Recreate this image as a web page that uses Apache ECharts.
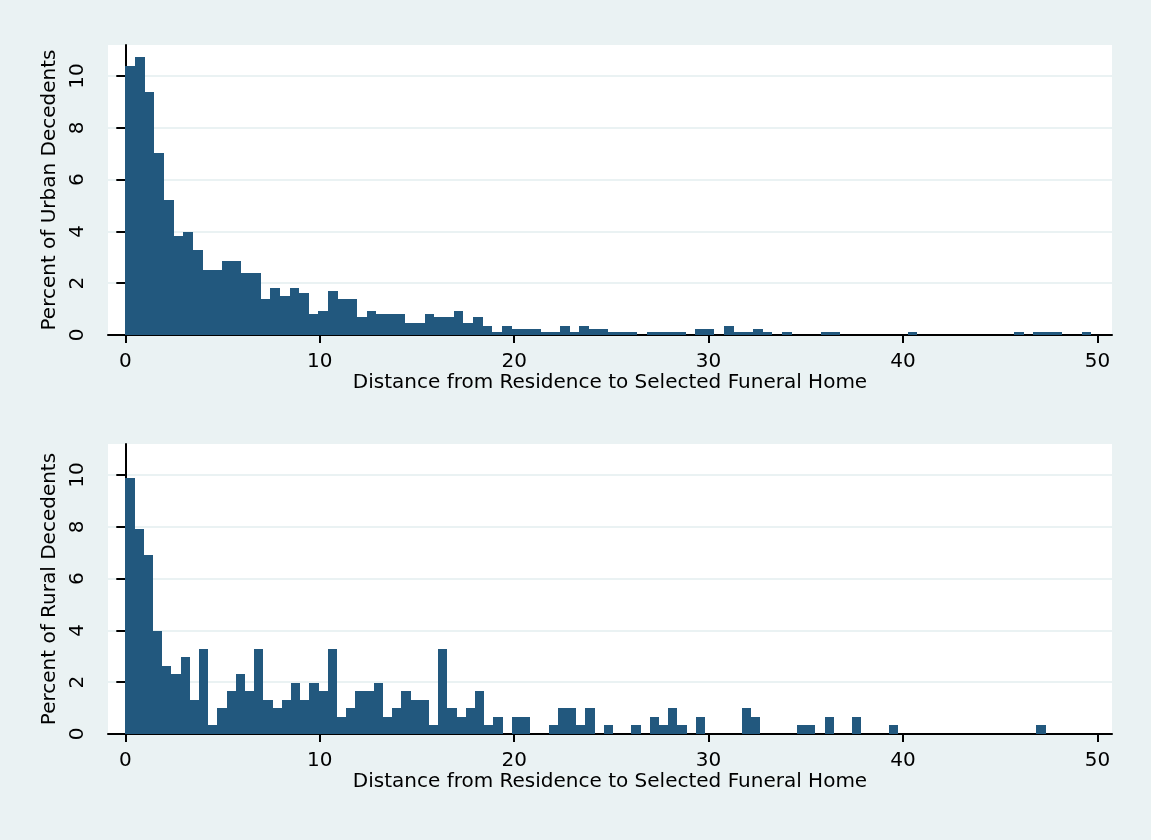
<!DOCTYPE html>
<html>
<head>
<meta charset="utf-8">
<script src="https://cdn.jsdelivr.net/npm/echarts@6/dist/echarts.min.js"></script>
<style>
html, body { margin: 0; padding: 0; background: #eaf2f3; }
#chart { width: 1151px; height: 840px; }
</style>
</head>
<body>
<div id="chart"></div>
<script>
// ---- data (percent of decedents per distance bin, bins start at 0) ----
const urbanBinWidth = 0.4968;
const ruralBinWidth = 0.4733;
const urbanPct = [
  10.40, 10.73, 9.39, 7.01, 5.21, 3.84, 3.97, 3.30, 2.51, 2.51,
  2.86, 2.86, 2.39, 2.39, 1.39, 1.83, 1.50, 1.83, 1.61, 0.82,
  0.94, 1.71, 1.38, 1.38, 0.70, 0.94, 0.82, 0.82, 0.82, 0.47,
  0.47, 0.82, 0.70, 0.70, 0.94, 0.47, 0.70, 0.35, 0.12, 0.35,
  0.23, 0.23, 0.23, 0.12, 0.12, 0.35, 0.12, 0.35, 0.23, 0.23,
  0.12, 0.12, 0.12, 0, 0.12, 0.12, 0.12, 0.12, 0, 0.23,
  0.23, 0, 0.35, 0.12, 0.12, 0.23, 0.12, 0, 0.12, 0,
  0, 0, 0.12, 0.12, 0, 0, 0, 0, 0, 0,
  0, 0.12, 0, 0, 0, 0, 0, 0, 0, 0,
  0, 0, 0.12, 0, 0.12, 0.12, 0.12, 0, 0, 0.12
];
const ruralPct = [
  9.90, 7.92, 6.93, 3.96, 2.64, 2.31, 2.97, 1.32, 3.30, 0.33,
  0.99, 1.65, 2.31, 1.65, 3.30, 1.32, 0.99, 1.32, 1.98, 1.32,
  1.98, 1.65, 3.30, 0.66, 0.99, 1.65, 1.65, 1.98, 0.66, 0.99,
  1.65, 1.32, 1.32, 0.33, 3.30, 0.99, 0.66, 0.99, 1.65, 0.33,
  0.66, 0, 0.66, 0.66, 0, 0, 0.33, 0.99, 0.99, 0.33,
  0.99, 0, 0.33, 0, 0, 0.33, 0, 0.66, 0.33, 0.99,
  0.33, 0, 0.66, 0, 0, 0, 0, 0.99, 0.66, 0,
  0, 0, 0, 0.33, 0.33, 0, 0.66, 0, 0, 0.66,
  0, 0, 0, 0.33, 0, 0, 0, 0, 0, 0,
  0, 0, 0, 0, 0, 0, 0, 0, 0, 0.33
];
const xTicks = [0, 10, 20, 30, 40, 50];
const yTicks = [0, 2, 4, 6, 8, 10];
const xTitle = 'Distance from Residence to Selected Funeral Home';
const yTitleUrban = 'Percent of Urban Decedents';
const yTitleRural = 'Percent of Rural Decedents';

// ---- styling ----
const BG = '#eaf2f3';
const BAR = '#22587e';
const FONT = 'DejaVu Sans';

function toBins(vals, w) {
  return vals.map((v, i) => [i * w, (i + 1) * w, v]);
}

function renderHist(params, api) {
  const v = api.value(2);
  if (!v) return null;
  const p0 = api.coord([api.value(0), v]);
  const p1 = api.coord([api.value(1), 0]);
  const x0 = Math.round(p0[0]), x1 = Math.round(p1[0]);
  const y0 = Math.round(p0[1]), y1 = p1[1];
  return {
    type: 'rect',
    shape: { x: x0, y: y0, width: x1 - x0, height: y1 - y0 },
    style: { fill: BAR }
  };
}

function xAxisCfg(gridIndex) {
  return {
    type: 'value', gridIndex: gridIndex,
    min: -0.89, max: 50.75,
    name: xTitle, nameLocation: 'middle', nameGap: 35,
    nameTextStyle: { fontFamily: FONT, fontSize: 20, color: '#000' },
    axisLine: { show: true, onZero: false, lineStyle: { color: '#000', width: 2 } },
    axisTick: { show: true, customValues: xTicks, length: 8, lineStyle: { color: '#000', width: 2 } },
    axisLabel: { customValues: xTicks, margin: 17, fontFamily: FONT, fontSize: 20, color: '#000' },
    splitLine: { show: false }
  };
}

function yAxisCfg(gridIndex, title) {
  return {
    type: 'value', gridIndex: gridIndex,
    min: 0, max: 11.2, interval: 2,
    name: title, nameLocation: 'middle', nameGap: 40, nameRotate: 90,
    nameTextStyle: { fontFamily: FONT, fontSize: 20, color: '#000' },
    axisLine: { show: true, lineStyle: { color: '#000', width: 2 } },
    axisTick: { show: true, customValues: yTicks, length: 9, lineStyle: { color: '#000', width: 2 } },
    axisLabel: { customValues: yTicks, rotate: 90, margin: 20, fontFamily: FONT, fontSize: 20, color: '#000' },
    splitLine: { show: true, lineStyle: { color: BG, width: 2 } }
  };
}

const chart = echarts.init(document.getElementById('chart'), null, { renderer: 'canvas' });
chart.setOption({
  backgroundColor: BG,
  animation: false,
  textStyle: { fontFamily: FONT },
  grid: [
    { left: 108, top: 45, width: 1004, height: 290, show: true, backgroundColor: '#fff', borderWidth: 0 },
    { left: 108, top: 444, width: 1004, height: 290, show: true, backgroundColor: '#fff', borderWidth: 0 }
  ],
  xAxis: [xAxisCfg(0), xAxisCfg(1)],
  yAxis: [yAxisCfg(0, yTitleUrban), yAxisCfg(1, yTitleRural)],
  series: [
    { type: 'custom', xAxisIndex: 0, yAxisIndex: 0, renderItem: renderHist,
      encode: { x: [0, 1], y: 2 }, data: toBins(urbanPct, urbanBinWidth), clip: true, z: 2 },
    { type: 'custom', xAxisIndex: 1, yAxisIndex: 1, renderItem: renderHist,
      encode: { x: [0, 1], y: 2 }, data: toBins(ruralPct, ruralBinWidth), clip: true, z: 2 }
  ]
});
</script>
</body>
</html>
